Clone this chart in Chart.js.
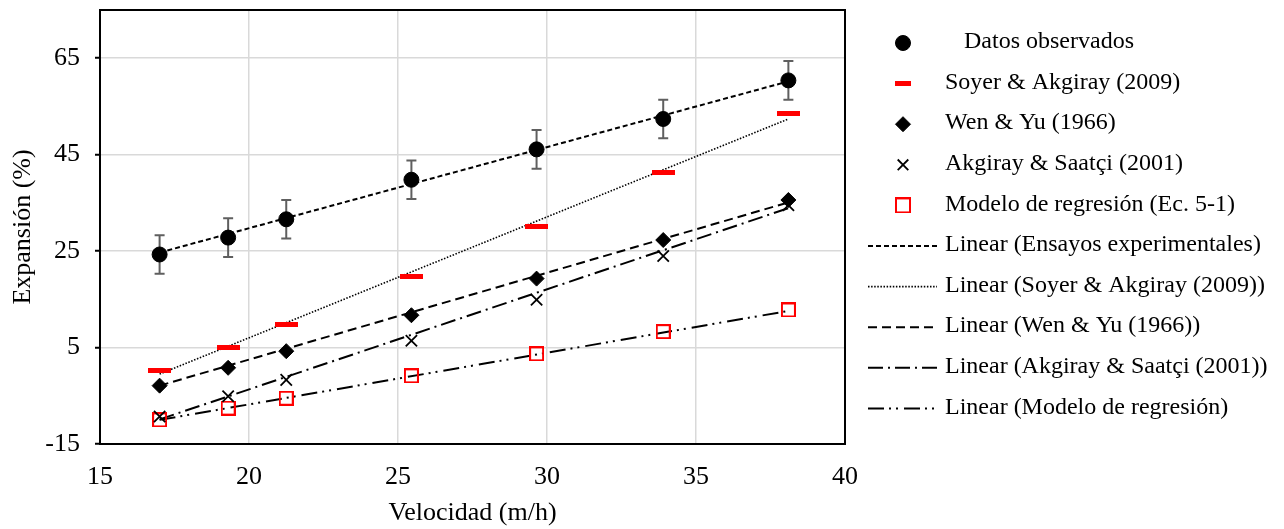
<!DOCTYPE html>
<html>
<head>
<meta charset="utf-8">
<script src="https://cdn.jsdelivr.net/npm/chart.js@4/dist/chart.umd.min.js"></script>
<style>
  html, body { margin: 0; padding: 0; background: #fff; }
</style>
</head>
<body>
<canvas id="chart" width="1284" height="529"></canvas>
<script>
// valores
const velocidad = [17.0, 19.3, 21.25, 25.45, 29.65, 33.9, 38.1];
const observados = [24.3, 27.8, 31.6, 39.8, 46.1, 52.4, 60.4];
const errorObs = [4, 4, 4, 4, 4, 4, 4];
const soyer = [0.3, 5.1, 9.7, 19.7, 30.1, 41.4, 53.6];
const wenYu = [-2.9, 0.8, 4.25, 11.7, 19.3, 27.3, 35.6];
const akgiray = [-9.3, -5.1, -1.7, 6.4, 14.9, 24.0, 34.5];
const regresion = [-10.0, -7.55, -5.5, -0.86, 3.7, 8.3, 12.8];

// extremos de las lineas de tendencia (x = 17.0 y 38.1)
const xTendencia = [17.0, 38.1];
const tendObs = [24.7, 60.2];
const tendSoyer = [-0.5, 52.4];
const tendWen = [-2.9, 35.1];
const tendAkgiray = [-9.9, 33.9];
const tendRegresion = [-10.0, 12.6];

const yTicks = [-15, 5, 25, 45, 65];
const xTicks = [15, 20, 25, 30, 35, 40];

const FONT = 'Liberation Serif';
const pts = (xs, ys) => xs.map((x, i) => ({ x: x, y: ys[i] }));

// marcadores dibujados como imagen (raya roja y cuadrado hueco)
function raya(w, h) {
  const c = document.createElement('canvas');
  c.width = w; c.height = h;
  const g = c.getContext('2d');
  g.fillStyle = '#ff0000';
  g.fillRect(0, 0, w, h);
  return c;
}
function cuadrado(s) {
  const c = document.createElement('canvas');
  c.width = s; c.height = s;
  const g = c.getContext('2d');
  g.strokeStyle = '#ff0000';
  g.lineWidth = 2;
  g.strokeRect(1, 1, s - 2, s - 2);
  return c;
}
const rayaGrafico = raya(23, 5);
const rayaLeyenda = raya(16, 5);
const cuadroGrafico = cuadrado(15);
const cuadroLeyenda = cuadrado(16);

const marcadores = [
  { label: 'Datos observados', data: pts(velocidad, observados), pointStyle: 'circle', pointRadius: 7.5,
    legendStyle: 'circle', legendRadius: 7.5, backgroundColor: '#000', borderColor: '#000', borderWidth: 1 },
  { label: 'Soyer & Akgiray (2009)', data: pts(velocidad, soyer), pointStyle: rayaGrafico, pointRadius: 3,
    legendStyle: rayaLeyenda, legendRadius: 3, backgroundColor: '#ff0000', borderColor: '#ff0000', borderWidth: 0 },
  { label: 'Wen & Yu (1966)', data: pts(velocidad, wenYu), pointStyle: 'rectRot', pointRadius: 7.5,
    legendStyle: 'rectRot', legendRadius: 7.5, backgroundColor: '#000', borderColor: '#000', borderWidth: 1 },
  { label: 'Akgiray & Saatçi (2001)', data: pts(velocidad, akgiray), pointStyle: 'crossRot', pointRadius: 8,
    legendStyle: 'crossRot', legendRadius: 7.5, backgroundColor: '#000', borderColor: '#000', borderWidth: 1.8 },
  { label: 'Modelo de regresión (Ec. 5-1)', data: pts(velocidad, regresion), pointStyle: cuadroGrafico, pointRadius: 3,
    legendStyle: cuadroLeyenda, legendRadius: 3, backgroundColor: 'rgba(0,0,0,0)', borderColor: '#ff0000', borderWidth: 0 }
];

const tendencias = [
  { label: 'Linear (Ensayos experimentales)', data: pts(xTendencia, tendObs), borderDash: [5, 3], borderWidth: 2 },
  { label: 'Linear (Soyer & Akgiray (2009))', data: pts(xTendencia, tendSoyer), borderDash: [1.5, 1.6], borderWidth: 1.6 },
  { label: 'Linear (Wen & Yu (1966))', data: pts(xTendencia, tendWen), borderDash: [9, 5], borderWidth: 2 },
  { label: 'Linear (Akgiray & Saatçi (2001))', data: pts(xTendencia, tendAkgiray), borderDash: [15, 5, 2, 5], borderWidth: 2 },
  { label: 'Linear (Modelo de regresión)', data: pts(xTendencia, tendRegresion), borderDash: [16, 5, 2, 5, 2, 6], borderWidth: 2 }
];

const datasets = [];
marcadores.forEach(m => datasets.push({
  label: m.label, data: m.data, showLine: false, pointStyle: m.pointStyle,
  pointRadius: m.pointRadius, pointHoverRadius: m.pointRadius,
  backgroundColor: m.backgroundColor, borderColor: m.borderColor, borderWidth: m.borderWidth
}));
tendencias.forEach(t => datasets.push(Object.assign({ showLine: true, pointRadius: 0, borderColor: '#000',
  backgroundColor: '#000', fill: false }, t)));

// barras de error, marco del area y leyenda
const extras = {
  id: 'extras',
  beforeDatasetsDraw(chart) {
    const { ctx, scales: { x, y } } = chart;
    ctx.save();
    ctx.strokeStyle = '#5f5f5f';
    ctx.lineWidth = 2;
    velocidad.forEach((v, i) => {
      const px = x.getPixelForValue(v);
      const top = y.getPixelForValue(observados[i] + errorObs[i]);
      const bot = y.getPixelForValue(observados[i] - errorObs[i]);
      ctx.beginPath();
      ctx.moveTo(px, top); ctx.lineTo(px, bot);
      ctx.moveTo(px - 5, top); ctx.lineTo(px + 5, top);
      ctx.moveTo(px - 5, bot); ctx.lineTo(px + 5, bot);
      ctx.stroke();
    });
    ctx.restore();
  },
  afterDraw(chart) {
    const { ctx, chartArea: a } = chart;
    ctx.save();
    ctx.strokeStyle = '#000';
    ctx.lineWidth = 2;
    ctx.strokeRect(a.left, a.top, a.right - a.left, a.bottom - a.top);

    // leyenda
    const x0 = 903, y0 = 43, dy = 40.6;
    ctx.font = '24px "' + FONT + '"';
    ctx.textBaseline = 'middle';
    ctx.textAlign = 'left';
    marcadores.forEach((m, i) => {
      const cy = y0 + i * dy;
      ctx.fillStyle = m.backgroundColor;
      ctx.strokeStyle = m.borderColor;
      ctx.lineWidth = m.borderWidth;
      Chart.helpers.drawPoint(ctx, { pointStyle: m.legendStyle, radius: m.legendRadius, borderWidth: m.borderWidth, rotation: 0 }, x0, cy);
      ctx.fillStyle = '#000';
      ctx.fillText(m.label, i === 0 ? 964 : 945, cy - 1);
    });
    tendencias.forEach((t, j) => {
      const cy = y0 + (j + 5) * dy;
      ctx.beginPath();
      ctx.strokeStyle = '#000';
      ctx.lineWidth = t.borderWidth;
      ctx.setLineDash(t.borderDash);
      ctx.moveTo(868, cy); ctx.lineTo(937, cy);
      ctx.stroke();
      ctx.setLineDash([]);
      ctx.fillStyle = '#000';
      ctx.fillText(t.label, 945, cy - 1);
    });
    ctx.restore();
  }
};

new Chart(document.getElementById('chart'), {
  type: 'scatter',
  data: { datasets: datasets },
  options: {
    responsive: false,
    animation: false,
    layout: { padding: { left: 0, top: 10, right: 439, bottom: 0 } },
    plugins: { legend: { display: false }, tooltip: { enabled: false } },
    scales: {
      x: {
        type: 'linear', min: 15, max: 40,
        afterFit: s => { s.height = 85; s.paddingLeft = 0; s.paddingRight = 0; },
        afterBuildTicks: s => { s.ticks = xTicks.map(v => ({ value: v })); },
        grid: { color: '#d9d9d9', lineWidth: 1.5, drawTicks: false },
        border: { color: '#000', width: 2 },
        ticks: { color: '#000', font: { family: FONT, size: 26 }, padding: 18, maxRotation: 0 },
        title: { display: true, text: 'Velocidad (m/h)', color: '#000', font: { family: FONT, size: 26 },
          padding: { top: 0, bottom: 0 } }
      },
      y: {
        type: 'linear', min: -15, max: 75,
        afterFit: s => { s.width = 100; s.paddingTop = 0; s.paddingBottom = 0; },
        afterBuildTicks: s => { s.ticks = yTicks.map(v => ({ value: v })); },
        grid: { color: '#d9d9d9', lineWidth: 1.5, tickLength: 5, tickColor: '#000', tickWidth: 2 },
        border: { color: '#000', width: 2 },
        ticks: { color: '#000', font: { family: FONT, size: 26 }, padding: 15 },
        title: { display: true, text: 'Expansión (%)', color: '#000', font: { family: FONT, size: 26 },
          padding: { top: 8, bottom: 0 } }
      }
    }
  },
  plugins: [extras]
});
</script>
</body>
</html>
